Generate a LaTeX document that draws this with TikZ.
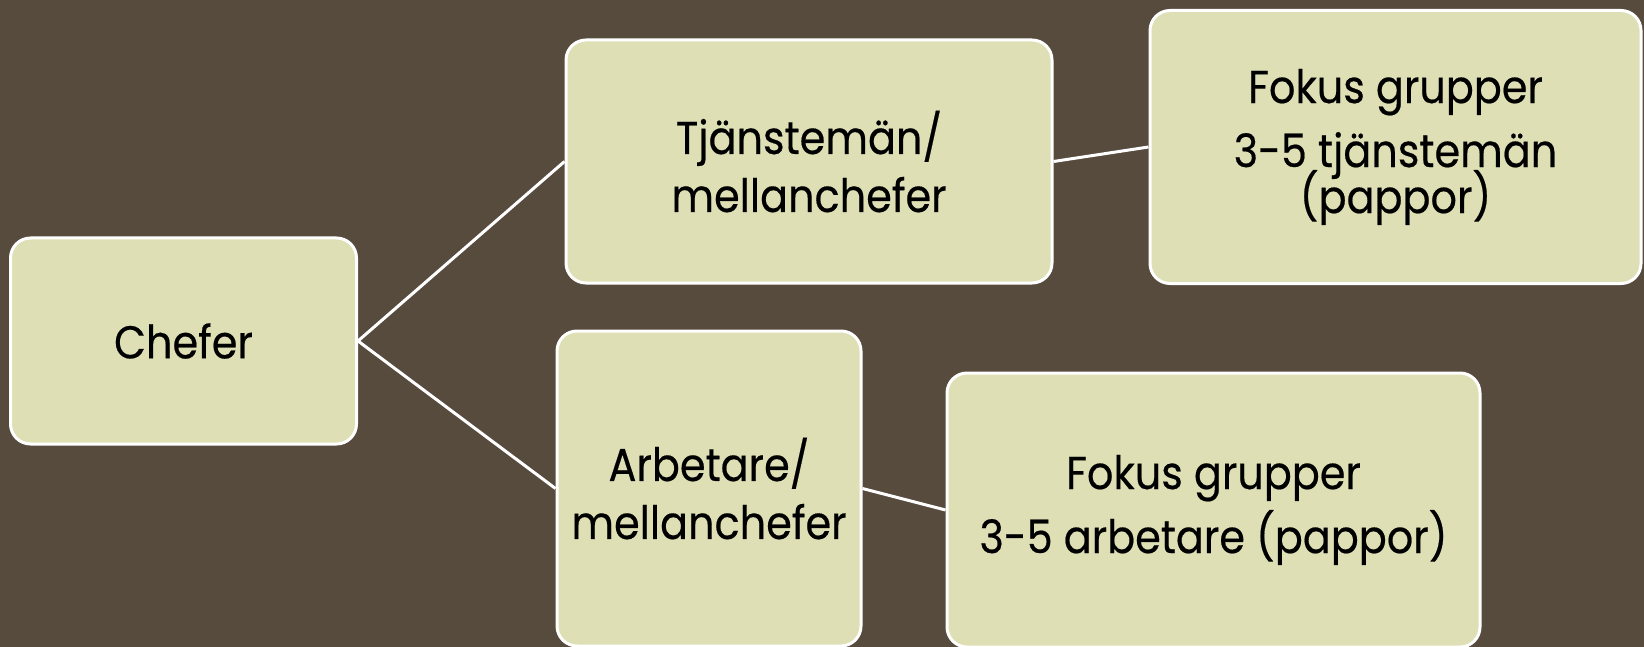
\documentclass[tikz,border=0pt]{standalone}
\usepackage{fontspec}
\setmainfont[FakeStretch=0.9,FakeBold=0.4]{Poppins}
\usetikzlibrary{positioning}
\definecolor{bgbrown}{HTML}{574B3E}
\definecolor{boxfill}{HTML}{DEDFB4}
\tikzset{
  orgbox/.style={rectangle, rounded corners=20pt, draw=white, line width=3pt,
    fill=boxfill, inner sep=0pt, align=center, text=black,
    font=\fontsize{46}{58}\selectfont},
  link/.style={draw=white, line width=3pt}
}
\begin{document}
\begin{tikzpicture}[x=1pt,y=-1pt]
\fill[bgbrown] (0,0) rectangle (1644,647);
\useasboundingbox (0,0) rectangle (1644,647);
\node[orgbox, minimum width=346pt, minimum height=206pt] (chef) at (183.5,341) {Chefer};
\node[orgbox, minimum width=486pt, minimum height=243pt] (tj) at (809,161.5) {Tjänstemän/\\mellanchefer};
\node[orgbox, minimum width=491pt, minimum height=273pt] (fk1) at (1395.5,147) {Fokus grupper\\[6pt]3-5 tjänstemän\\[-12pt](pappor)};
\node[orgbox, minimum width=304pt, minimum height=315pt] (arb) at (709,488.5) {Arbetare/\\mellanchefer};
\node[orgbox, minimum width=533pt, minimum height=274pt] (fk2) at (1213.5,510) {Fokus grupper\\[6pt]3-5 arbetare (pappor)};
\draw[link] (chef.east) -- (tj.west);
\draw[link] (chef.east) -- (arb.west);
\draw[link] (tj.east) -- (fk1.west);
\draw[link] (arb.east) -- (fk2.west);
\end{tikzpicture}
\end{document}
